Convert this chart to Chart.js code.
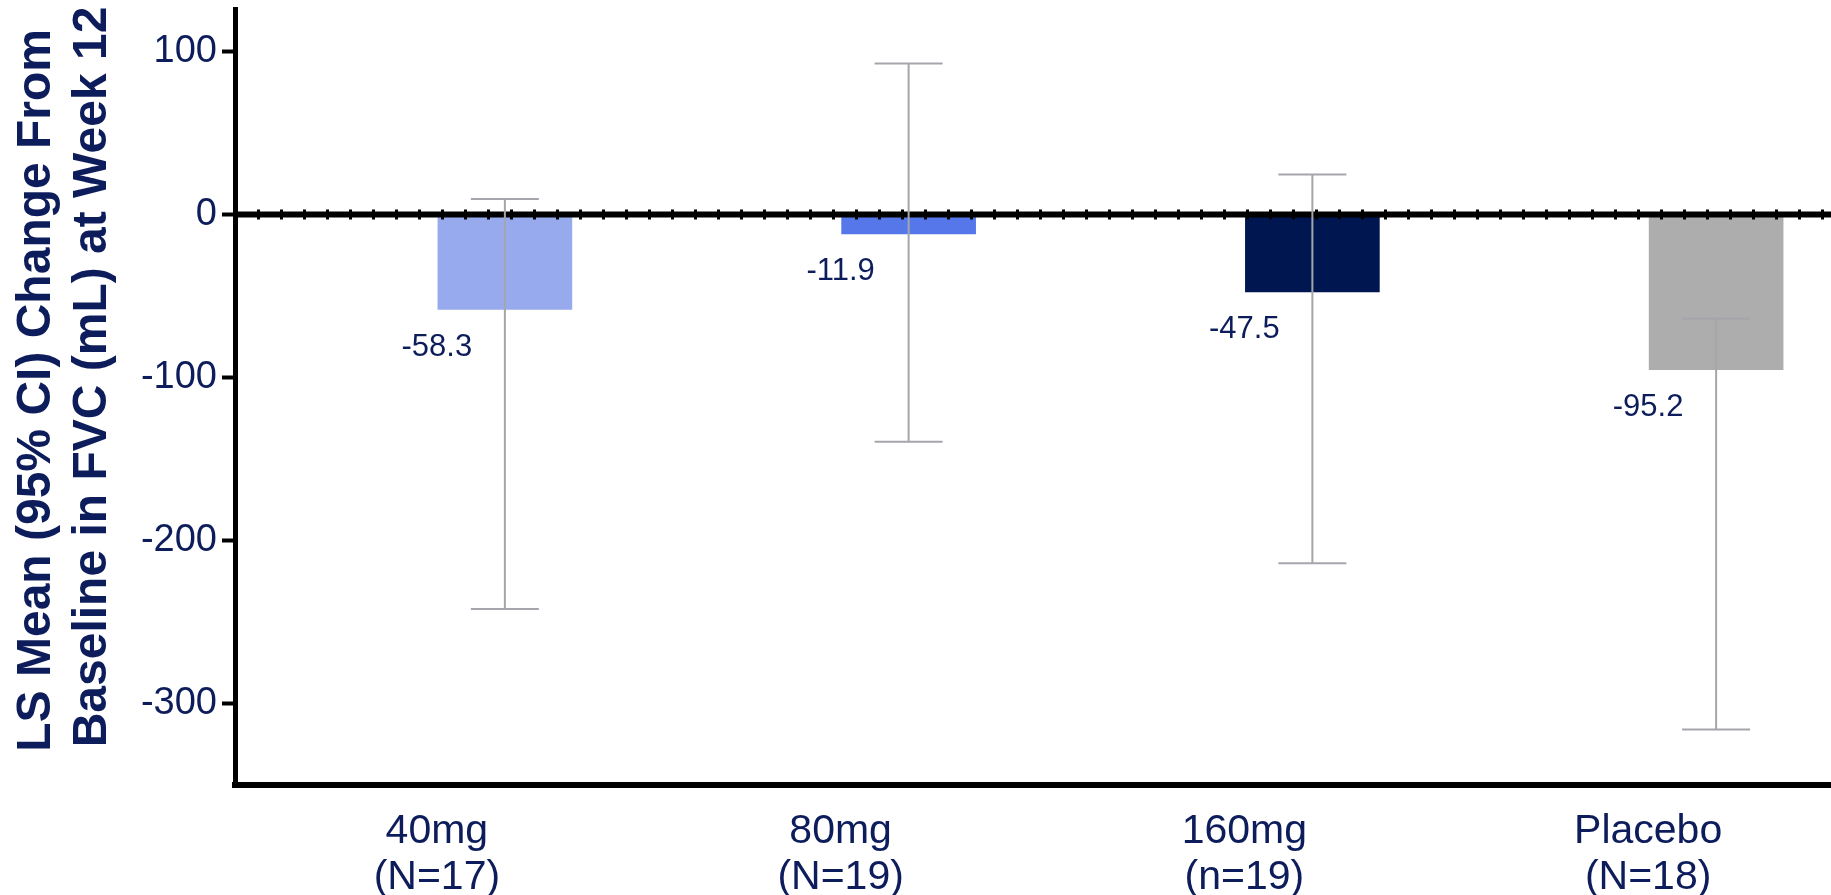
<!DOCTYPE html>
<html>
<head>
<meta charset="utf-8">
<script src="https://cdn.jsdelivr.net/npm/chart.js@4.4.0/dist/chart.umd.min.js"></script>
<style>
  html, body { margin: 0; padding: 0; background: #fff; }
</style>
</head>
<body>
<canvas id="fvcChart" width="1831" height="895"></canvas>
<script>
const categories = [['40mg', '(N=17)'], ['80mg', '(N=19)'], ['160mg', '(n=19)'], ['Placebo', '(N=18)']];
const lsMeans = [-58.3, -11.9, -47.5, -95.2];
const ciLower = [-242, -139.5, -214, -316];
const ciUpper = [9.5, 92.5, 24.5, -64];
const yTicks = [100, 0, -100, -200, -300];
const barColors = ['#97aaee', '#5577ea', '#001650', '#adadad'];

const NAVY = '#0d1d5b';
const FONT = "'Liberation Sans', Arial, sans-serif";
const BAR_SHIFT = 68;   // bars sit to the right of their category label
const OVERHANG = 19;    // plot area runs past the right edge of the canvas

// stretch the x scale a bit past the canvas edge (layout padding can't go negative)
const overhang = {
  id: 'overhang',
  afterLayout(chart) {
    const x = chart.scales.x;
    x.right += OVERHANG;
    x.width += OVERHANG;
    x.configure();
    chart.chartArea.right += OVERHANG;
  }
};

const shiftBars = {
  id: 'shiftBars',
  afterDatasetsUpdate(chart) {
    chart.getDatasetMeta(0).data.forEach(el => { el.x += BAR_SHIFT; });
  }
};

const overlay = {
  id: 'overlay',
  afterDatasetsDraw(chart) {
    const { ctx, chartArea: a, scales: { x, y } } = chart;
    const y0 = y.getPixelForValue(0);
    ctx.save();

    // zero line with small tick dots
    ctx.strokeStyle = '#000';
    ctx.lineWidth = 10;
    ctx.setLineDash([3, 20]);
    ctx.lineDashOffset = -22;
    ctx.beginPath(); ctx.moveTo(a.left, y0); ctx.lineTo(a.right, y0); ctx.stroke();
    ctx.setLineDash([]);
    ctx.lineWidth = 6;
    ctx.beginPath(); ctx.moveTo(a.left, y0); ctx.lineTo(a.right, y0); ctx.stroke();

    // 95% CI bars
    ctx.strokeStyle = '#a5a5ac';
    ctx.lineWidth = 2;
    chart.getDatasetMeta(0).data.forEach((bar, i) => {
      const hi = y.getPixelForValue(ciUpper[i]);
      const lo = y.getPixelForValue(ciLower[i]);
      ctx.beginPath();
      ctx.moveTo(bar.x, hi); ctx.lineTo(bar.x, lo);
      ctx.moveTo(bar.x - 34, hi); ctx.lineTo(bar.x + 34, hi);
      ctx.moveTo(bar.x - 34, lo); ctx.lineTo(bar.x + 34, lo);
      ctx.stroke();
    });

    // value labels, centred on the category
    ctx.fillStyle = NAVY;
    ctx.font = `31px ${FONT}`;
    ctx.textAlign = 'center';
    ctx.textBaseline = 'middle';
    lsMeans.forEach((v, i) => {
      ctx.fillText(v.toFixed(1), x.getPixelForValue(i), y.getPixelForValue(v) + 38);
    });
    ctx.restore();
  }
};

new Chart(document.getElementById('fvcChart'), {
  type: 'bar',
  data: {
    labels: categories,
    datasets: [{ data: lsMeans, backgroundColor: barColors, barThickness: 134, borderWidth: 0 }]
  },
  options: {
    responsive: false,
    animation: false,
    layout: { padding: { top: 9, right: 0, left: 0, bottom: 0 } },
    plugins: { legend: { display: false }, tooltip: { enabled: false } },
    scales: {
      x: {
        grid: { drawOnChartArea: false, drawTicks: false },
        border: { display: true, color: '#000', width: 6 },
        ticks: {
          color: NAVY, autoSkip: false, maxRotation: 0, padding: 24,
          font: { size: 41, family: FONT, lineHeight: 1.12 }
        },
        afterFit: s => { s.height = 110; s.paddingLeft = 0; s.paddingRight = 0; }
      },
      y: {
        min: -350, max: 126,
        afterBuildTicks: s => { s.ticks = yTicks.map(v => ({ value: v })); },
        grid: { drawOnChartArea: false, drawTicks: true, tickLength: 13, tickWidth: 4, tickColor: '#000', color: '#000' },
        border: { color: '#000', width: 5 },
        ticks: { color: NAVY, padding: 5, font: { size: 38, family: FONT } },
        title: {
          display: true,
          text: [' LS Mean (95% CI) Change From', '   Baseline in FVC (mL) at Week 12'],
          color: NAVY,
          font: { size: 48, weight: 'bold', family: FONT, lineHeight: 1.17 },
          padding: { top: 9, bottom: 0 }
        },
        afterFit: s => { s.width = 235; s.paddingTop = 0; s.paddingBottom = 0; }
      }
    }
  },
  plugins: [overhang, shiftBars, overlay]
});
</script>
</body>
</html>
